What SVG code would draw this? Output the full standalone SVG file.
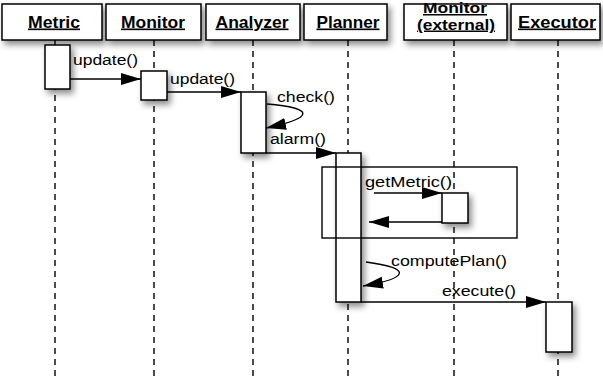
<svg xmlns="http://www.w3.org/2000/svg" width="603" height="377" viewBox="0 0 603 377">
<style>
.hd{fill:#fff;stroke:#000;stroke-width:1.5;filter:url(#sh)}
.act{fill:#fff;stroke:#000;stroke-width:1.5;filter:url(#sh)}
.life{stroke:#000;stroke-width:1.4;stroke-dasharray:6 5;fill:none}
.ht{font-family:"Liberation Sans",Arial,sans-serif;font-weight:bold;font-size:16.5px;text-decoration:underline;text-anchor:middle}
.ht2{font-family:"Liberation Sans",Arial,sans-serif;font-weight:bold;font-size:15px;text-decoration:underline;text-anchor:middle}
.lb{font-family:"Liberation Sans",Arial,sans-serif;font-size:15.5px}
.msg{stroke:#000;stroke-width:1.4;fill:none;marker-end:url(#ah)}
.frame{fill:none;stroke:#000;stroke-width:1.4}
</style>
<defs>
<filter id="sh" x="-50%" y="-50%" width="200%" height="200%">
<feDropShadow dx="3" dy="4" stdDeviation="3" flood-color="#000" flood-opacity="0.45"/>
</filter>
<marker id="ah" markerUnits="userSpaceOnUse" markerWidth="21" markerHeight="13" refX="20" refY="6" orient="auto">
<path d="M0,0 L20,6 L0,12 z" fill="#000"/>
</marker>
</defs>
<rect width="603" height="377" fill="#fff"/>

<g id="metric">
<line class="life" x1="55" y1="40" x2="55" y2="377"/>
<rect class="hd" x="2" y="4" width="100" height="36"/>
<text class="ht" x="54" y="27.5" textLength="52" lengthAdjust="spacingAndGlyphs">Metric</text>
<rect class="act" x="45" y="45" width="25" height="44"/>
</g>

<g id="monitor">
<line class="life" x1="154" y1="40" x2="154" y2="377"/>
<rect class="hd" x="106" y="4" width="95" height="36"/>
<text class="ht" x="153" y="27.5" textLength="64" lengthAdjust="spacingAndGlyphs">Monitor</text>
<rect class="act" x="141" y="71" width="26" height="29"/>
</g>

<g id="analyzer">
<line class="life" x1="253" y1="40" x2="253" y2="377"/>
<rect class="hd" x="206" y="4" width="94" height="36"/>
<text class="ht" x="252" y="27.5" textLength="73" lengthAdjust="spacingAndGlyphs">Analyzer</text>
<rect class="act" x="241" y="92" width="25" height="61"/>
</g>

<g id="planner">
<line class="life" x1="348" y1="40" x2="348" y2="377"/>
<rect class="hd" x="304" y="4" width="83" height="36"/>
<text class="ht" x="348" y="27.5" textLength="63" lengthAdjust="spacingAndGlyphs">Planner</text>
<rect class="act" x="336" y="153" width="25" height="149"/>
</g>

<g id="monitor-external">
<line class="life" x1="454" y1="40" x2="454" y2="377"/>
<rect class="hd" x="404" y="4" width="103" height="36"/>
<text class="ht2" x="455" y="13" textLength="64" lengthAdjust="spacingAndGlyphs">Monitor</text>
<text class="ht2" x="456" y="29.5" textLength="78" lengthAdjust="spacingAndGlyphs">(external)</text>
<rect class="act" x="442" y="193" width="26" height="30"/>
</g>

<g id="executor">
<line class="life" x1="558" y1="40" x2="558" y2="377"/>
<rect class="hd" x="511" y="4" width="89" height="36"/>
<text class="ht" x="557" y="27.5" textLength="78" lengthAdjust="spacingAndGlyphs">Executor</text>
<rect class="act" x="546" y="302" width="26" height="50"/>
</g>

<g id="frame">
<rect class="frame" x="322" y="167" width="195" height="71"/>
</g>

<g id="connectors">
<line class="msg" x1="70" y1="79" x2="141" y2="79"/>
<text class="lb" x="73" y="65" textLength="65" lengthAdjust="spacingAndGlyphs">update()</text>
<line class="msg" x1="167" y1="92" x2="241" y2="92"/>
<text class="lb" x="170" y="84" textLength="65" lengthAdjust="spacingAndGlyphs">update()</text>
<path class="msg" d="M267,104 C316,108 314,118 266,128"/>
<text class="lb" x="277" y="102" textLength="58" lengthAdjust="spacingAndGlyphs">check()</text>
<line class="msg" x1="266" y1="153" x2="336" y2="153"/>
<text class="lb" x="270" y="144" textLength="56" lengthAdjust="spacingAndGlyphs">alarm()</text>
<line class="msg" x1="374" y1="193" x2="442" y2="193"/>
<text class="lb" x="365" y="187" textLength="87" lengthAdjust="spacingAndGlyphs">getMetric()</text>
<line class="msg" x1="442" y1="222" x2="369" y2="222"/>
<path class="msg" d="M366,262 C412,268 410,278 363,286"/>
<text class="lb" x="391" y="266" textLength="116" lengthAdjust="spacingAndGlyphs">computePlan()</text>
<line class="msg" x1="361" y1="302" x2="546" y2="302"/>
<text class="lb" x="442" y="296" textLength="74" lengthAdjust="spacingAndGlyphs">execute()</text>
</g>
</svg>
